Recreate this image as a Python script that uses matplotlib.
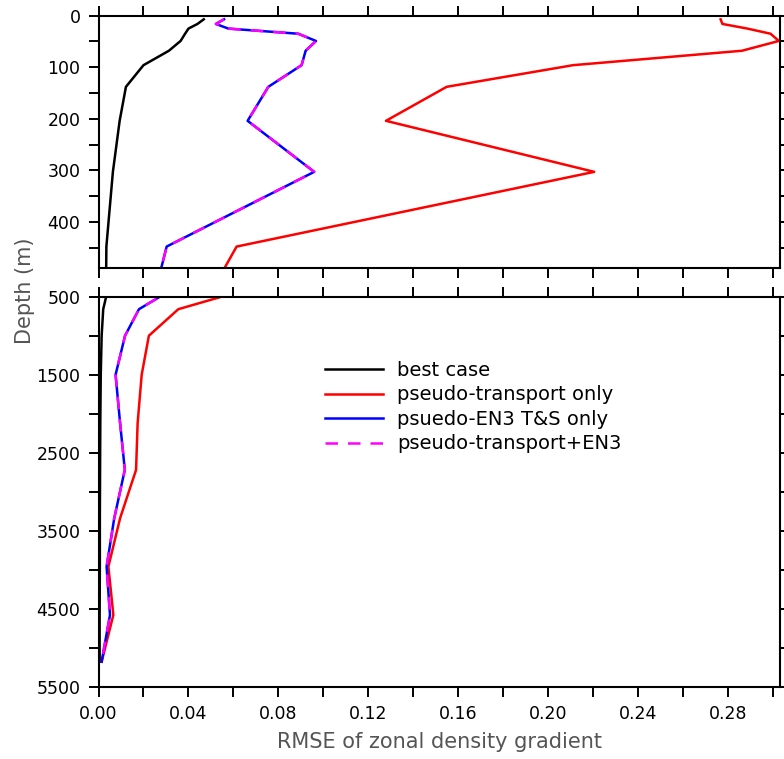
"""RMSE perfiles de gradiente zonal de densidad: panel superior (0-500 m) e inferior (500-5500 m)."""

import matplotlib
matplotlib.use("Agg")
import matplotlib.pyplot as plt
from matplotlib.ticker import MultipleLocator

DEPTH = [7, 16, 25, 35, 49, 68, 96, 138, 204, 303, 448, 500,
         660, 1000, 1500, 2120, 2720, 3340, 3960, 4580, 5180]

BEST = [0.0468, 0.0440, 0.0400, 0.0385, 0.0365, 0.0313, 0.0200, 0.0122, 0.0094,
        0.0064, 0.0035, 0.0034, 0.0021, 0.0014, 0.0010, 0.0008, 0.0007,
        0.0006, 0.0006, 0.0005, 0.0005]
TRANSPORT = [0.2766, 0.2774, 0.2885, 0.2988, 0.3025, 0.2861, 0.2110, 0.1548, 0.1278,
             0.2204, 0.0614, 0.0547, 0.0355, 0.0224, 0.0192, 0.0174, 0.0167,
             0.0096, 0.0044, 0.0066, 0.0014]
EN3 = [0.0558, 0.0522, 0.0577, 0.0888, 0.0967, 0.0921, 0.0903, 0.0755, 0.0663,
       0.0959, 0.0303, 0.0273, 0.0180, 0.0118, 0.0076, 0.0096, 0.0117,
       0.0070, 0.0036, 0.0051, 0.0014]
TRANSPORT_EN3 = EN3

LABELS = ["best case", "pseudo-transport only", "psuedo-EN3 T&S only",
          "pseudo-transport+EN3"]

GREY = "#555555"
W, H = 784, 759


def style_ax(ax):
    for sp in ax.spines.values():
        sp.set_linewidth(1.5)
    ax.tick_params(which="both", direction="out", length=7, width=1.4,
                   top=True, right=True, labelsize=12.5, pad=6)
    ax.set_xlim(0, 0.303)
    ax.xaxis.set_major_locator(MultipleLocator(0.04))
    ax.xaxis.set_minor_locator(MultipleLocator(0.02))


def draw(ax):
    ax.plot(BEST, DEPTH, color="black", lw=1.8, label=LABELS[0])
    ax.plot(TRANSPORT, DEPTH, color="red", lw=1.8, label=LABELS[1])
    ax.plot(EN3, DEPTH, color="blue", lw=1.8, label=LABELS[2])
    ax.plot(TRANSPORT_EN3, DEPTH, color="magenta", lw=1.8, dashes=(5, 4),
            label=LABELS[3])


fig = plt.figure(figsize=(W / 100, H / 100), dpi=100)
left, right = 98.5 / W, 780 / W

ax1 = fig.add_axes([left, 1 - 267.7 / H, right - left, (267.7 - 15.7) / H])
ax2 = fig.add_axes([left, 1 - 686.7 / H, right - left, (686.7 - 296.7) / H])

for ax in (ax1, ax2):
    style_ax(ax)
    draw(ax)

ax1.set_ylim(489, 0)
ax1.yaxis.set_major_locator(MultipleLocator(100))
ax1.yaxis.set_minor_locator(MultipleLocator(50))
ax1.tick_params(labelbottom=False)

ax2.set_ylim(5500, 500)
ax2.set_yticks(range(500, 5501, 1000))
ax2.set_yticks(range(1000, 5001, 1000), minor=True)
ax2.xaxis.set_major_formatter(lambda v, p: f"{v:.2f}")
ax2.set_xlabel("RMSE of zonal density gradient", color=GREY, fontsize=15,
               labelpad=7)

fig.text(25 / W, 1 - 291 / H, "Depth (m)", rotation=90, color=GREY,
         fontsize=15, ha="center", va="center")

ax2.legend(loc="upper left", bbox_to_anchor=(325 / W, 1 - 361 / H),
           bbox_transform=fig.transFigure, frameon=False, fontsize=14,
           handlelength=3.0, handletextpad=0.7, labelspacing=0.28,
           borderpad=0, borderaxespad=0)

fig.savefig("out.png", dpi=100)
